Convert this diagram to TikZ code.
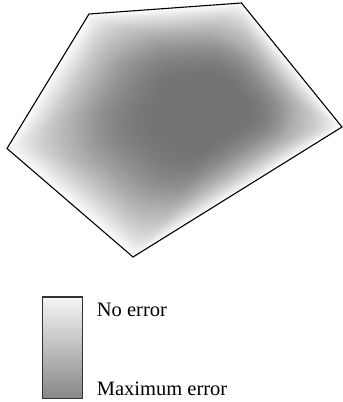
\documentclass[tikz,border=0pt]{standalone}
\usepackage{fontspec}
\setmainfont{Liberation Serif}
\usetikzlibrary{calc}
\tikzset{
  outline/.style={draw=black,line width=1.1pt,line join=miter},
  legendbar/.style={draw=black!80,line width=1.4pt,inner sep=0pt,
    minimum width=40pt,minimum height=101.5pt,top color=black!4,bottom color=black!47},
  lbl/.style={anchor=base west,inner sep=0pt,font=\fontsize{20.5}{24}\selectfont}
}
\begin{document}
\begin{tikzpicture}[x=1pt,y=-1pt]
\useasboundingbox (0,0) rectangle (343,402);
\coordinate (A) at (89,14);
\coordinate (B) at (241.5,3);
\coordinate (C) at (342,127);
\coordinate (D) at (133,257);
\coordinate (E) at (7,148.5);
\coordinate (P) at (214,110);
% graded fill: light at the boundary, dark inside
\begin{scope}
\clip (A) -- (B) -- (C) -- (D) -- (E) -- cycle;
\foreach \i in {0,...,79}{
  \pgfmathsetmacro\s{1-0.74*\i/79}
  \pgfmathsetmacro\u{\i/79}
  \pgfmathsetmacro\d{1+54*(1-(1-\u)*(1-\u))}
  \pgfmathsetmacro\r{min(50*\s,140*(1-\s))}
  \fill[black!\d,rounded corners=\r pt] ($(P)!\s!(A)$) -- ($(P)!\s!(B)$) -- ($(P)!\s!(C)$) -- ($(P)!\s!(D)$) -- ($(P)!\s!(E)$) -- cycle;
}
\end{scope}
\draw[outline] (A) -- (B) -- (C) -- (D) -- (E) -- cycle;
% legend
\node[legendbar] (bar) at (62.7,347.9) {};
\node[lbl] (noerr) at (96.7,316.7) {No error};
\node[lbl] (maxerr) at (96.7,395) {Maximum error};
\end{tikzpicture}
\end{document}
